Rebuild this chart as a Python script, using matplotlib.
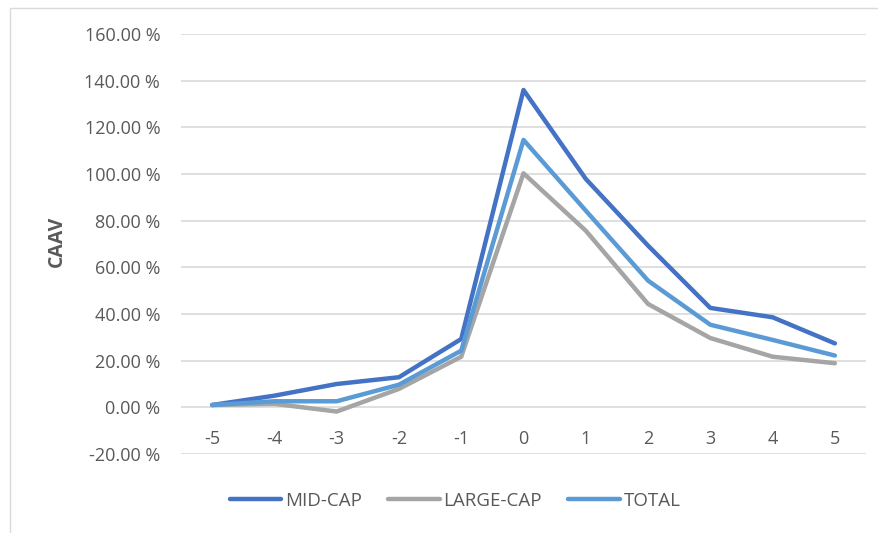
import matplotlib
matplotlib.use("Agg")
import matplotlib.pyplot as plt
from matplotlib.ticker import FuncFormatter, FixedLocator
from matplotlib.patches import Rectangle

# Event-window days and cumulative abnormal volume (%) per group
days = [-5, -4, -3, -2, -1, 0, 1, 2, 3, 4, 5]
mid_cap = [1.0, 5.0, 10.0, 12.9, 29.3, 136.0, 97.9, 69.3, 42.6, 38.6, 27.4]
large_cap = [1.0, 1.5, -1.8, 7.9, 21.7, 100.3, 75.7, 44.3, 29.7, 21.7, 18.9]
total = [1.0, 2.6, 2.6, 9.7, 24.3, 114.6, 84.3, 54.3, 35.4, 28.9, 22.2]
series_names = ["MID-CAP", "LARGE-CAP", "TOTAL"]
y_ticks = [-20, 0, 20, 40, 60, 80, 100, 120, 140, 160]

colors = ["#4472C4", "#A5A5A5", "#5B9BD5"]
text_color = "#595959"

plt.rcParams["font.family"] = ["Open Sans", "DejaVu Sans"]

fig = plt.figure(figsize=(8.79, 5.33), dpi=100)
fig.patch.set_facecolor("white")

# thin chart border (top and left edges visible)
fig.patches.append(Rectangle((10 / 879, -0.1), 1.2, (533 - 8) / 533 + 0.1,
                             transform=fig.transFigure, fill=False,
                             edgecolor="#D9D9D9", linewidth=1.0))

ax = fig.add_axes([181 / 879, 79 / 533, 685 / 879, 420 / 533])
ax.set_xlim(-5.5, 5.5)
ax.set_ylim(-20, 160)

ax.yaxis.set_major_locator(FixedLocator(y_ticks))
ax.yaxis.set_major_formatter(FuncFormatter(lambda v, p: f"{v:.2f} %"))
ax.grid(axis="y", color="#D9D9D9", linewidth=1.2)
ax.set_axisbelow(True)

for s in ax.spines.values():
    s.set_visible(False)

ax.tick_params(axis="y", length=0, pad=15, labelsize=13, labelcolor=text_color)
ax.set_xticks(days)
ax.set_xticklabels([str(d) for d in days])
ax.tick_params(axis="x", length=0, labelsize=13, labelcolor=text_color)
ax.spines["bottom"].set_position(("data", 0))
ax.tick_params(axis="x", pad=16.5)

for vals, name, c in zip([mid_cap, large_cap, total], series_names, colors):
    ax.plot(days, vals, color=c, linewidth=3.2, label=name,
            solid_joinstyle="round", solid_capstyle="round")

ax.set_ylabel("CAAV", fontsize=14, fontweight="bold", color=text_color)
ax.yaxis.set_label_coords(-0.167, 0.507)

leg = fig.legend(loc="center", bbox_to_anchor=(455 / 879, 1 - 501 / 533),
                 ncol=3, frameon=False, fontsize=13.5, handlelength=2.75,
                 handletextpad=0.2, columnspacing=1.4)
for t in leg.get_texts():
    t.set_color(text_color)

fig.savefig("out.png", dpi=100, facecolor="white")
